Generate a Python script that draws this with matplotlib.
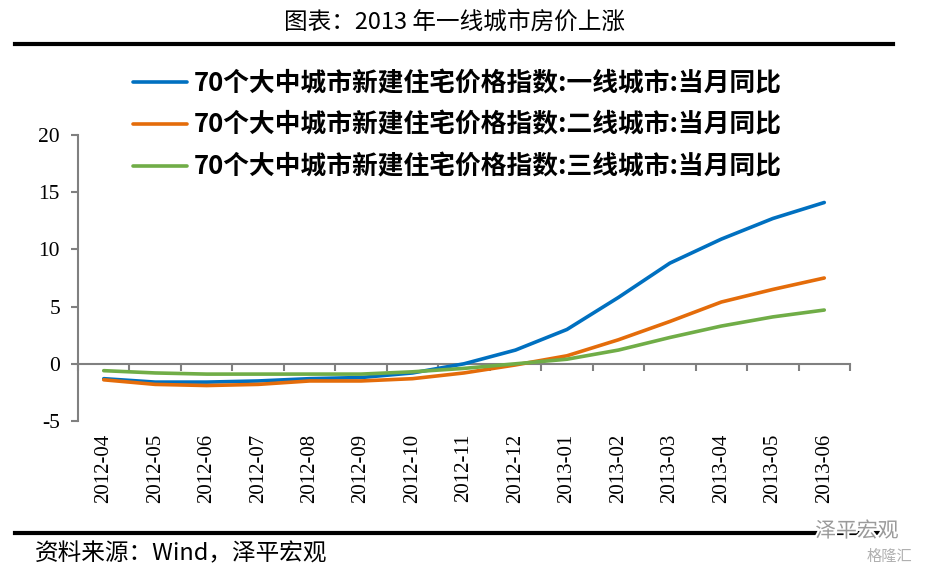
"""
图表：2013 年一线城市房价上涨
70 个大中城市新建住宅价格指数，当月同比（一线 / 二线 / 三线）
"""

import matplotlib
matplotlib.use("Agg")
import matplotlib.pyplot as plt
import matplotlib.patheffects as pe
from matplotlib.lines import Line2D

plt.rcParams["font.family"] = ["Noto Sans CJK SC", "DejaVu Sans"]
plt.rcParams["axes.unicode_minus"] = False

# ─── DATA ────────────────────────────────────────────────────────────────────
months = ["2012-04", "2012-05", "2012-06", "2012-07", "2012-08", "2012-09",
          "2012-10", "2012-11", "2012-12", "2013-01", "2013-02", "2013-03",
          "2013-04", "2013-05", "2013-06"]

tier1 = [-1.3, -1.6, -1.6, -1.5, -1.3, -1.2, -0.8, 0.0, 1.2, 3.0, 5.8, 8.8, 10.9, 12.7, 14.1]
tier2 = [-1.4, -1.8, -1.9, -1.8, -1.5, -1.5, -1.3, -0.8, -0.1, 0.7, 2.1, 3.7, 5.4, 6.5, 7.5]
tier3 = [-0.6, -0.8, -0.9, -0.9, -0.9, -0.9, -0.7, -0.4, 0.0, 0.4, 1.2, 2.3, 3.3, 4.1, 4.7]

series_labels = [
    "70个大中城市新建住宅价格指数:一线城市:当月同比",
    "70个大中城市新建住宅价格指数:二线城市:当月同比",
    "70个大中城市新建住宅价格指数:三线城市:当月同比",
]
series_colors = ["#0070C0", "#E46C0A", "#70AD47"]

y_ticks = [-5, 0, 5, 10, 15, 20]

# ─── FIGURE ──────────────────────────────────────────────────────────────────
W, H = 935, 575
fig = plt.figure(figsize=(W / 100, H / 100), dpi=100)
fig.patch.set_facecolor("white")
ax = fig.add_axes([78 / W, 1 - 421 / H, (850 - 78) / W, (421 - 135) / H])

x = list(range(len(months)))
for vals, lab, col in zip([tier1, tier2, tier3], series_labels, series_colors):
    ax.plot(x, vals, color=col, linewidth=2.6, label=lab, solid_capstyle="round")

ax.set_xlim(-0.5, len(months) - 0.5)
ax.set_ylim(-5, 20)

axis_gray = "#808080"
for s in ["top", "right", "bottom"]:
    ax.spines[s].set_visible(False)
ax.spines["left"].set_color(axis_gray)
ax.spines["left"].set_linewidth(1.5)

ax.set_yticks(y_ticks)
ax.tick_params(axis="y", colors=axis_gray, length=5, width=1.5, pad=8,
               labelcolor="black", labelsize=15.5)
for t in ax.get_yticklabels():
    t.set_family("Liberation Serif")

# month labels at the bottom of the axes, no tick marks
ax.set_xticks(x)
ax.set_xticklabels(months, rotation=90, family="Liberation Serif", fontsize=15)
ax.tick_params(axis="x", length=0, pad=9)

# zero axis with category-boundary ticks
zero_ax = ax.secondary_xaxis(0, transform=ax.transData)
zero_ax.set_xticks([i - 0.5 for i in range(len(months) + 1)])
zero_ax.set_xticklabels([])
zero_ax.spines["bottom"].set_color(axis_gray)
zero_ax.spines["bottom"].set_linewidth(1.5)
zero_ax.tick_params(axis="x", colors=axis_gray, length=5, width=1.5)

# legend
fig.legend(loc="upper left", bbox_to_anchor=(133 / W, 1 - 70 / H),
           frameon=False, handlelength=2.1, handletextpad=0.25,
           labelspacing=0.58, borderpad=0, borderaxespad=0,
           prop={"family": ["Noto Sans CJK SC"], "weight": "bold", "size": 18.5})

# title and rules
fig.text(455 / W, 1 - 22 / H, "图表：2013 年一线城市房价上涨", ha="center", va="center",
         fontsize=17)
fig.add_artist(Line2D([15 / W, 893 / W], [1 - 44 / H] * 2, transform=fig.transFigure,
                      color="black", linewidth=3))
fig.add_artist(Line2D([15 / W, 893 / W], [1 - 533 / H] * 2, transform=fig.transFigure,
                      color="black", linewidth=3))

fig.text(35 / W, 1 - 554 / H, "资料来源：Wind，泽平宏观", ha="left", va="center",
         fontsize=17, style="italic")

# watermark
wm = fig.text(857 / W, 1 - 531 / H, "泽平宏观", ha="center", va="center",
              fontsize=15, color="#9a9a9a")
wm.set_path_effects([pe.withStroke(linewidth=3, foreground="white")])
fig.text(889 / W, 1 - 556 / H, "格隆汇", ha="center", va="center",
         fontsize=11, color="#b0b0b0")

fig.savefig("out.png", dpi=100)
